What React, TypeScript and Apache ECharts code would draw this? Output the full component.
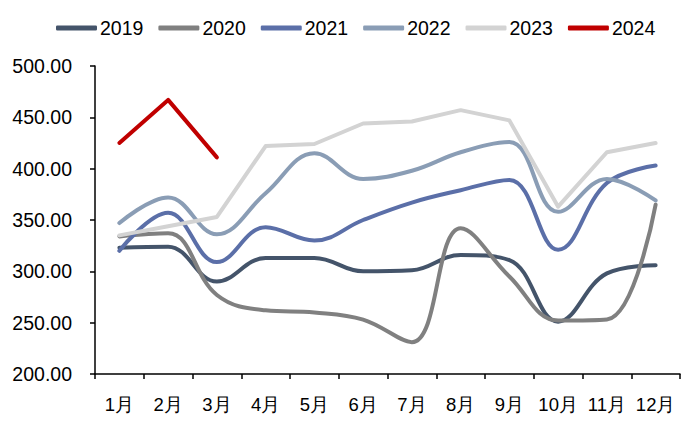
import React, { useEffect, useRef } from "react";
import * as echarts from "echarts";

const months = ["1月", "2月", "3月", "4月", "5月", "6月", "7月", "8月", "9月", "10月", "11月", "12月"];
const s2019 = [323, 324, 290, 313, 313, 300, 301, 316, 311, 251, 298, 306];
const s2020 = [334, 337, 277, 262, 260, 253, 231, 342, 295, 252, 253, 365];
const s2021 = [320, 357, 309, 343, 330, 350, 367, 379, 389, 321, 386, 403];
const s2022 = [347, 372, 336, 376, 415, 390, 398, 416, 426, 358, 390, 369];
const s2023 = [335, 344, 353, 422, 424, 444, 446, 457, 447, 363, 416, 425];
const s2024 = [425, 467, 411];
const years = ["2019", "2020", "2021", "2022", "2023", "2024"];
const colors = ["#44546A", "#808080", "#5B6FA8", "#8A9DB5", "#D3D3D3", "#C00000"];
const smoothFlags = [true, true, true, true, false, false];
const yTicks = { min: 200, max: 500, interval: 50 };

export default function App() {
  const ref = useRef<HTMLDivElement>(null);
  useEffect(() => {
    if (!ref.current) return;
    const chart = echarts.init(ref.current, undefined, { renderer: "svg" });
    const data = [s2019, s2020, s2021, s2022, s2023, s2024];
    chart.setOption({
      animation: false,
      textStyle: { fontFamily: "Liberation Sans, Arial, sans-serif" },
      legend: {
        top: 13,
        left: 51,
        data: years,
        icon: "roundRect",
        itemWidth: 41,
        itemHeight: 5,
        itemGap: 15,
        textStyle: { fontSize: 19.5, color: "#000", padding: [0, 0, 0, -2] },
      },
      grid: { left: 95, right: 20, top: 66, bottom: 61 },
      xAxis: {
        type: "category",
        data: months,
        boundaryGap: true,
        axisLine: { lineStyle: { color: "#000", width: 1.5 } },
        axisTick: { show: true, length: 5, inside: false, lineStyle: { color: "#000", width: 1.5 } },
        axisLabel: { color: "#000", fontSize: 18.5, margin: 21, interval: 0 },
      },
      yAxis: {
        type: "value",
        min: yTicks.min,
        max: yTicks.max,
        interval: yTicks.interval,
        axisLine: { show: true, lineStyle: { color: "#000", width: 1.5 } },
        axisTick: { show: true, length: 5, lineStyle: { color: "#000", width: 1.5 } },
        axisLabel: { color: "#000", fontSize: 19.5, margin: 23, formatter: (v: number) => v.toFixed(2) },
        splitLine: { show: false },
      },
      series: years.map((y, i) => ({
        name: y,
        type: "line",
        data: data[i],
        smooth: smoothFlags[i] ? 0.4 : false,
        showSymbol: false,
        symbol: "none",
        lineStyle: { color: colors[i], width: 4, cap: "round", join: "round" },
        itemStyle: { color: colors[i] },
        z: i === 5 ? 10 : 2 + i,
      })),
    });
    return () => chart.dispose();
  }, []);
  return <div ref={ref} style={{ width: 700, height: 435, position: "absolute", left: 0, top: 0 }} />;
}
